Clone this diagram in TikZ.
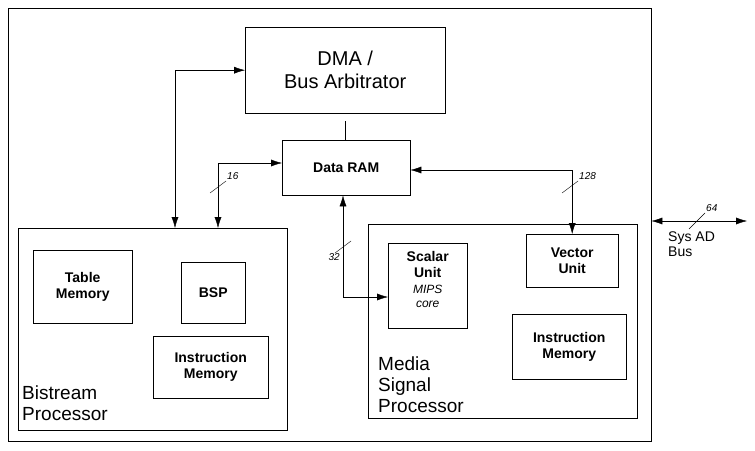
\documentclass[tikz,border=0pt]{standalone}
\usepackage{fontspec}
\setmainfont{Liberation Sans}
\usetikzlibrary{arrows.meta}
\tikzstyle{box}=[draw=black,thin,inner sep=0pt]
\tikzstyle{unit}=[font=\fontsize{14}{16}\selectfont\bfseries,align=center]
\tikzstyle{big}=[font=\fontsize{19}{21}\selectfont,align=left,anchor=south west,inner sep=0pt]
\tikzstyle{bus}=[thin,{Latex[length=11pt,width=7pt]}-{Latex[length=11pt,width=7pt]}]
\tikzstyle{width}=[font=\fontsize{10}{11}\selectfont\itshape,inner sep=1pt]

\begin{document}
\begin{tikzpicture}[x=1pt,y=-1pt]
      \useasboundingbox (0,0) rectangle (755,450);
      % frames
      \node [box,minimum width=643,minimum height=433,anchor=north west] (chip) at (8,8) {};
      \node [box,minimum width=200,minimum height=86,anchor=north west,
             font=\fontsize{20}{23}\selectfont,align=center] (dma) at (245,27) {DMA /\\Bus Arbitrator};
      \node [box,minimum width=128,minimum height=55,anchor=north west,unit] (ram) at (282,140) {Data RAM};
      \node [box,minimum width=269,minimum height=202,anchor=north west] (bsp proc) at (18,228) {};
      \node [box,minimum width=269,minimum height=194,anchor=north west] (msp proc) at (368,224) {};
      % bitstream side
      \node [box,minimum width=99,minimum height=73,anchor=north west,unit] (table) at (33,250) {Table\\Memory};
      \node [box,minimum width=64,minimum height=61,anchor=north west,unit] (bsp) at (181,262) {BSP};
      \node [box,minimum width=115,minimum height=62,anchor=north west,unit] (imem1) at (153,336) {Instruction\\Memory};
      \node [big] (bsp label) at (22,421) {Bistream\\Processor};
      % media side
      \node [box,minimum width=79,minimum height=85,anchor=north west] (scalar) at (388,243) {};
      \node [unit,anchor=north] (scalar name) at (scalar.north) [yshift=-5pt] {Scalar\\Unit};
      \node [anchor=north,align=center,font=\fontsize{12}{14}\selectfont\itshape] (mips) at (scalar name.south) {MIPS\\core};
      \node [box,minimum width=92,minimum height=53,anchor=north west,unit] (vector) at (526,234) {Vector\\Unit};
      \node [box,minimum width=114,minimum height=65,anchor=north west,unit] (imem2) at (512,314) {Instruction\\Memory};
      \node [big] (msp label) at (378,413) {Media\\Signal\\Processor};
      \node [anchor=north west,align=left,inner sep=0pt,font=\fontsize{14}{15}\selectfont] (sysad) at (668,232) {Sys AD\\Bus};
      % connectors
      \coordinate (bus end) at (747,221);
      \draw (dma.south) ++(0,8) coordinate (dma stub) -- (dma stub |- ram.north);
      \draw [bus] (175,228) |- (dma.west);
      \draw [bus] (ram.west |- 0,163) -| (218,228);
      \draw [bus] (ram.east |- 0,170) -| (vector.north);
      \draw [bus] (ram.south -| 343,0) |- (scalar.west |- 0,297);
      \draw [bus] (chip.east |- bus end) -- (bus end);
      % bus widths
      \draw (210,193) -- (226,181) node [width,anchor=south west] {16};
      \draw (562,193) -- (578,181) node [width,anchor=south west] {128};
      \draw (335,253) -- (351,241);
      \node [width,anchor=north east] at (341,252) {32};
      \draw (689,229) -- (705,213) node [width,anchor=south west] {64};
\end{tikzpicture}
\end{document}
